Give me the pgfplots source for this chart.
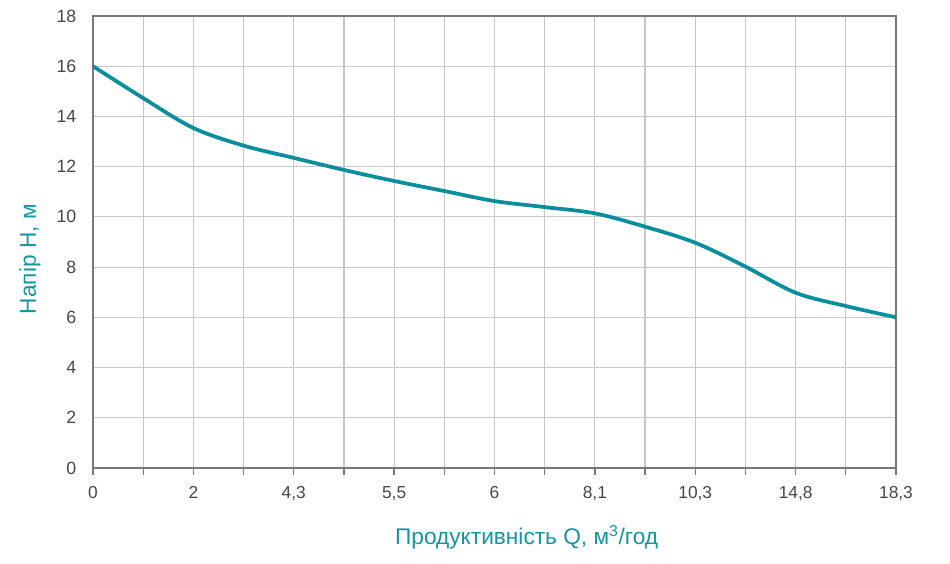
\documentclass[border=0pt]{standalone}
\usepackage{fontspec}
\setmainfont{Liberation Sans}
\usepackage{pgfplots}
\pgfplotsset{compat=1.18}
\definecolor{curve}{RGB}{8,142,156}
\definecolor{labteal}{RGB}{20,150,160}
\definecolor{gridgray}{RGB}{200,200,200}
\definecolor{framegray}{RGB}{120,120,120}
\definecolor{ticktext}{RGB}{70,70,70}
\begin{document}
\begin{tikzpicture}[x=0.75pt,y=0.75pt]
\useasboundingbox (-93,-96) rectangle (857,468);
\begin{axis}[
  at={(0,0)}, anchor=south west,
  scale only axis,
  width=602.25pt, height=339pt,
  xmin=0, xmax=16, ymin=0, ymax=18,
  xtick={0,...,16},
  xticklabels={0,,2,,{4,3},,{5,5},,6,,{8,1},,{10,3},,{14,8},,{18,3}},
  ytick={0,2,...,18},
  grid=major,
  major grid style={gridgray, line width=0.9pt},
  axis line style={framegray, line width=1.6pt},
  tick style={framegray, line width=1pt},
  xtick pos=bottom, ytick pos=left,
  tick align=outside,
  major tick length=5pt,
  ytick style={draw=none},
  /pgf/number format/assume math mode=true,
  xticklabel style={font=\fontsize{13}{15}\selectfont, text=ticktext,
    text height=9.5pt, text depth=2.5pt, yshift=-5pt},
  yticklabel style={font=\fontsize{13.3}{15}\selectfont, text=ticktext, xshift=-4pt},
  xlabel={Продуктивність Q, м\textsuperscript{3}/год},
  ylabel={Напір Н, м},
  label style={font=\fontsize{17}{19}\selectfont, text=labteal},
  xlabel style={at={(axis description cs:0.54,-0.153)}, anchor=center},
  ylabel style={at={(axis description cs:-0.0785,0.462)}, anchor=center, rotate=0},
]
\addplot[curve, line width=2.8pt, smooth, tension=0.55] coordinates {
  (0,16.0) (1,14.73) (2,13.54) (3,12.84) (4,12.35) (5,11.87) (6,11.43)
  (7,11.03) (8,10.63) (9,10.39) (10,10.14) (11,9.61) (12,8.97) (13,8.02)
  (14,6.98) (15,6.45) (16,6.0)
};
\end{axis}
\end{tikzpicture}
\end{document}
